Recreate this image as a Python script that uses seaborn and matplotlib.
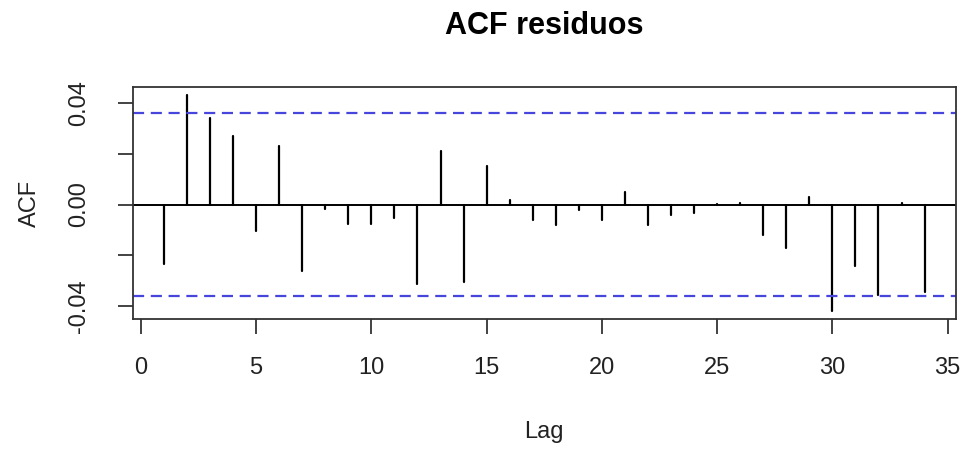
import numpy as np
import pandas as pd
import matplotlib
matplotlib.use("Agg")
import matplotlib.pyplot as plt
import seaborn as sns

# ---- data ----
lags = list(range(1, 35))
acf_vals = [-0.0235, 0.0434, 0.0342, 0.0269, -0.0106, 0.0230, -0.0263, -0.0016,
            -0.0075, -0.0075, -0.0055, -0.0315, 0.0212, -0.0307, 0.0151, 0.0016,
            -0.0062, -0.0081, -0.0022, -0.0062, 0.0049, -0.0081, -0.0042, -0.0035,
            0.0002, 0.0008, -0.0120, -0.0172, 0.0029, -0.0419, -0.0243, -0.0357,
            0.0007, -0.0347]
conf_limit = 0.0361
x_ticks = [0, 5, 10, 15, 20, 25, 30, 35]
y_ticks = [-0.04, -0.02, 0.0, 0.02, 0.04]
y_tick_labels = ["-0.04", "", "0.00", "", "0.04"]
title = "ACF residuos"
xlabel = "Lag"
ylabel = "ACF"

# long-form table: each lag gets a stem from 0 to its value
rows = []
for lg, v in zip(lags, acf_vals):
    rows.append({"lag": lg, "acf": 0.0, "unit": lg})
    rows.append({"lag": lg, "acf": v, "unit": lg})
df = pd.DataFrame(rows)

sns.set_style("white")
plt.rcParams["font.family"] = ["Liberation Sans", "DejaVu Sans"]

fig = plt.figure(figsize=(9.67, 4.5), dpi=100)
ax = fig.add_axes([0.1378, 0.2904, 0.8505, 0.5169])

sns.lineplot(data=df, x="lag", y="acf", units="unit", estimator=None,
             color="black", linewidth=1.6, ax=ax, sort=False)

ax.axhline(0, color="black", linewidth=1.4, zorder=1)
for c in (conf_limit, -conf_limit):
    ax.axhline(c, color="#4646dc", linewidth=1.6, linestyle=(0, (5, 3)))

ax.set_xlim(-0.33, 35.35)
ax.set_ylim(-0.0453, 0.0465)
ax.set_xticks(x_ticks)
ax.set_xticklabels([str(t) for t in x_ticks])
ax.set_yticks(y_ticks)
ax.set_yticklabels(y_tick_labels, rotation=90, va="center")

ax.tick_params(axis="both", which="both", direction="out", length=11,
               width=1.2, color="#222222", labelsize=17, labelcolor="#222222",
               bottom=True, left=True, top=False, right=False)
ax.tick_params(axis="x", pad=16)
ax.tick_params(axis="y", pad=20)

for sp in ax.spines.values():
    sp.set_visible(True)
    sp.set_color("#333333")
    sp.set_linewidth(1.3)

ax.set_xlabel("")
ax.set_ylabel("")
fig.text(544 / 967, 1 - 432 / 450, xlabel, ha="center", va="center", fontsize=17, color="#222222")
fig.text(30 / 967, 1 - 203 / 450, ylabel, ha="center", va="center", rotation=90, fontsize=17, color="#222222")
fig.text(544 / 967, 1 - 26 / 450, title, ha="center", va="center",
         fontsize=22, fontweight="bold", color="black")

fig.savefig("out.png", dpi=100, facecolor="white")
